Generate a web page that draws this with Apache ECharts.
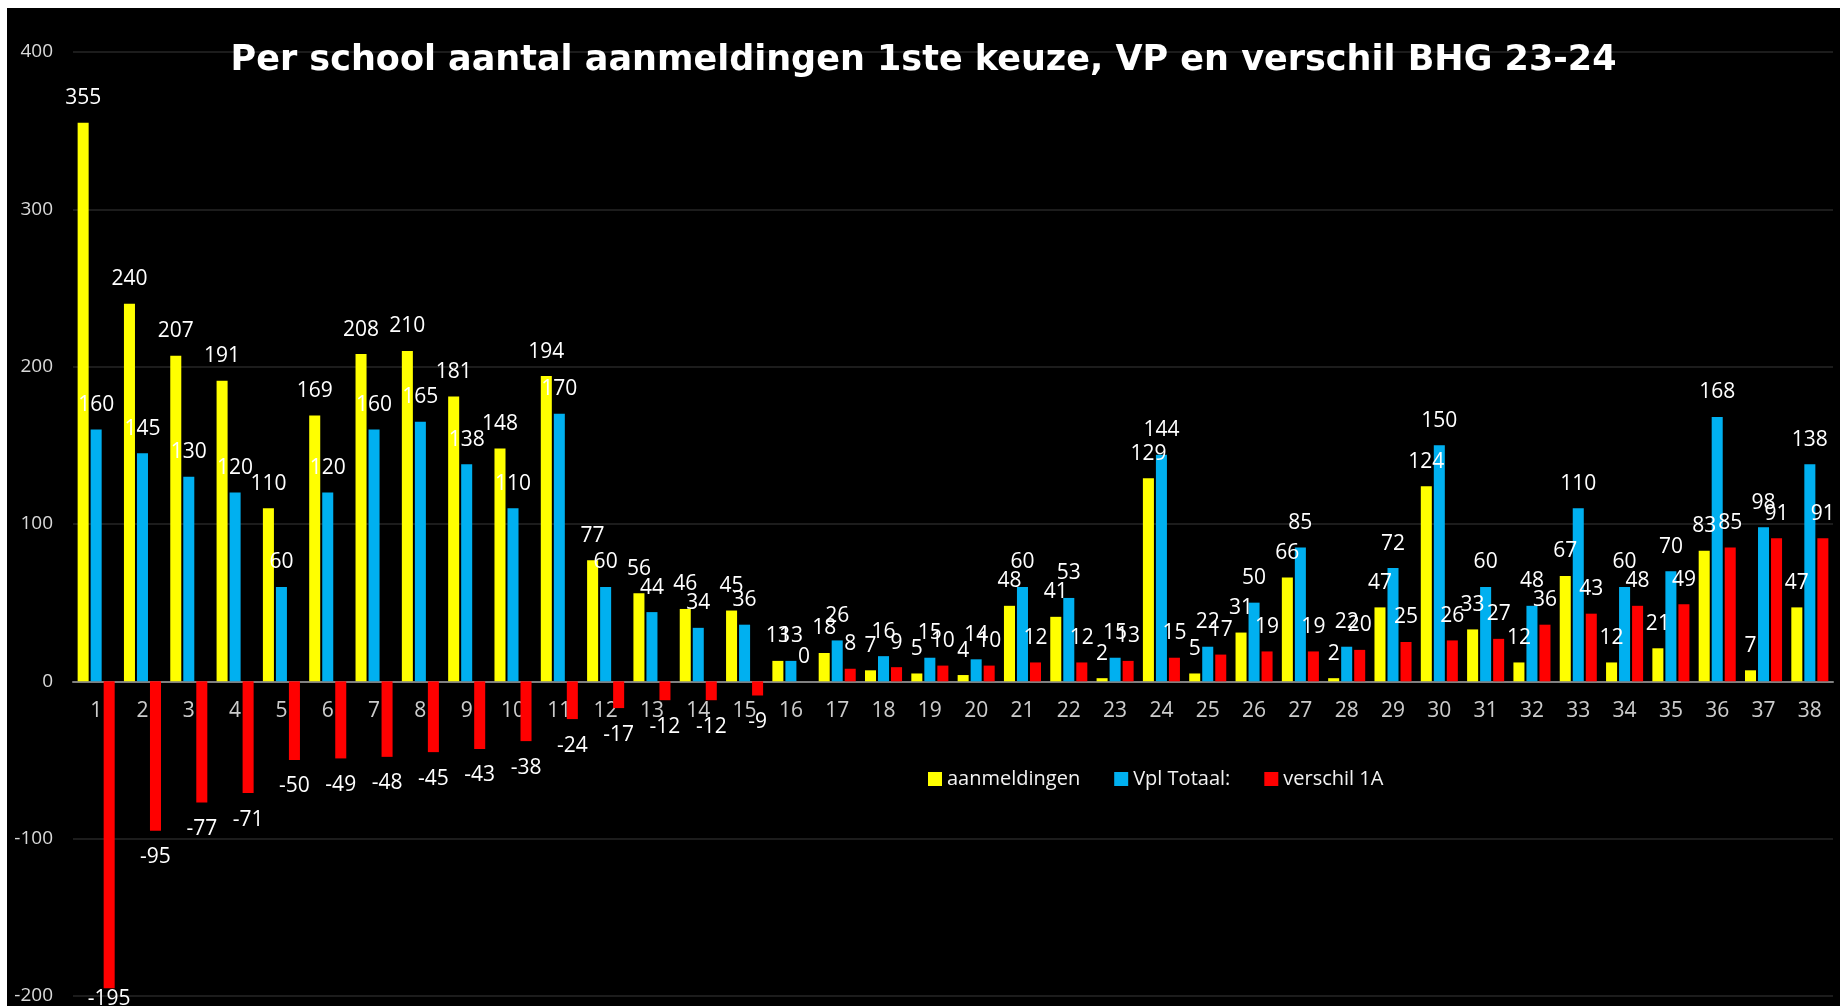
<!DOCTYPE html>
<html>
<head>
<meta charset="utf-8">
<script src="https://cdn.jsdelivr.net/npm/echarts@6/dist/echarts.min.js"></script>
<style>
html,body{margin:0;padding:0;background:#ffffff;width:1840px;height:1006px;overflow:hidden;}
#chart{position:absolute;left:7px;top:8px;width:1833px;height:998px;background:#000000;}
</style>
</head>
<body>
<div id="chart"></div>
<script>
const titleText = 'Per school aantal aanmeldingen 1ste keuze, VP en verschil BHG 23-24';
const seriesNames = ['aanmeldingen', 'Vpl Totaal:', 'verschil 1A'];
const categories = ['1','2','3','4','5','6','7','8','9','10','11','12','13','14','15','16','17','18','19','20','21','22','23','24','25','26','27','28','29','30','31','32','33','34','35','36','37','38'];
const aanmeldingen = [355,240,207,191,110,169,208,210,181,148,194,77,56,46,45,13,18,7,5,4,48,41,2,129,5,31,66,2,47,124,33,12,67,12,21,83,7,47];
const vplTotaal = [160,145,130,120,60,120,160,165,138,110,170,60,44,34,36,13,26,16,15,14,60,53,15,144,22,50,85,22,72,150,60,48,110,60,70,168,98,138];
const verschil1A = [-195,-95,-77,-71,-50,-49,-48,-45,-43,-38,-24,-17,-12,-12,-9,0,8,9,10,10,12,12,13,15,17,19,19,20,25,26,27,36,43,48,49,85,91,91];
const yMin = -200, yMax = 400, yStep = 100;

const FONT = '"Open Sans", "Noto Sans", sans-serif';
const colors = ['#FFFF00', '#00B0F0', '#FF0000'];

function toData(arr) {
  return arr.map(function (v) {
    if (v < 0) {
      return { value: v, label: { position: 'bottom', distance: (v <= yMin + 10) ? 0 : 16 } };
    }
    return v;
  });
}

const labelBase = {
  show: true,
  position: 'top',
  distance: 14,
  color: '#ffffff',
  fontFamily: FONT,
  fontSize: 21
};

const chart = echarts.init(document.getElementById('chart'), null, { renderer: 'canvas' });
chart.setOption({
  backgroundColor: '#000000',
  animation: false,
  color: colors,
  title: {
    text: titleText,
    left: 'center',
    top: 30,
    textStyle: { color: '#ffffff', fontFamily: '"DejaVu Sans", sans-serif', fontWeight: 'bold', fontSize: 35 }
  },
  legend: {
    data: seriesNames,
    left: 916,
    top: 756,
    itemWidth: 14,
    itemHeight: 14,
    itemGap: 34,
    icon: 'rect',
    textStyle: { color: '#f2f2f2', fontFamily: FONT, fontSize: 20 }
  },
  grid: { left: 66, right: 7, top: 44, bottom: 10, containLabel: false, outerBoundsMode: 'none' },
  xAxis: {
    type: 'category',
    data: categories,
    axisLine: { onZero: true, lineStyle: { color: '#808080', width: 2 } },
    axisTick: { show: false },
    axisLabel: { show: false },
    splitLine: { show: false }
  },
  yAxis: {
    type: 'value',
    min: yMin,
    max: yMax,
    interval: yStep,
    axisLine: { show: false },
    axisTick: { show: false },
    axisLabel: { color: '#d9d9d9', fontFamily: FONT, fontSize: 19, margin: 20 },
    splitLine: { lineStyle: { color: '#262626', width: 1.5 } }
  },
  series: [
    { name: seriesNames[0], type: 'bar', data: toData(aanmeldingen), barGap: '18%', barCategoryGap: '20%', label: labelBase, z: 2 },
    { name: seriesNames[1], type: 'bar', data: toData(vplTotaal), barGap: '18%', barCategoryGap: '20%', label: labelBase, z: 2 },
    { name: seriesNames[2], type: 'bar', data: toData(verschil1A), barGap: '18%', barCategoryGap: '20%', label: labelBase, z: 2 },
    {
      name: 'categoryLabels', type: 'scatter', symbolSize: 0, silent: true, z: 1,
      data: categories.map(function (c) { return [c, 0]; }),
      label: {
        show: true, position: 'bottom', distance: 19,
        formatter: function (p) { return p.value[0]; },
        color: '#ffffff', fontFamily: FONT, fontSize: 21
      }
    }
  ]
});
</script>
</body>
</html>
